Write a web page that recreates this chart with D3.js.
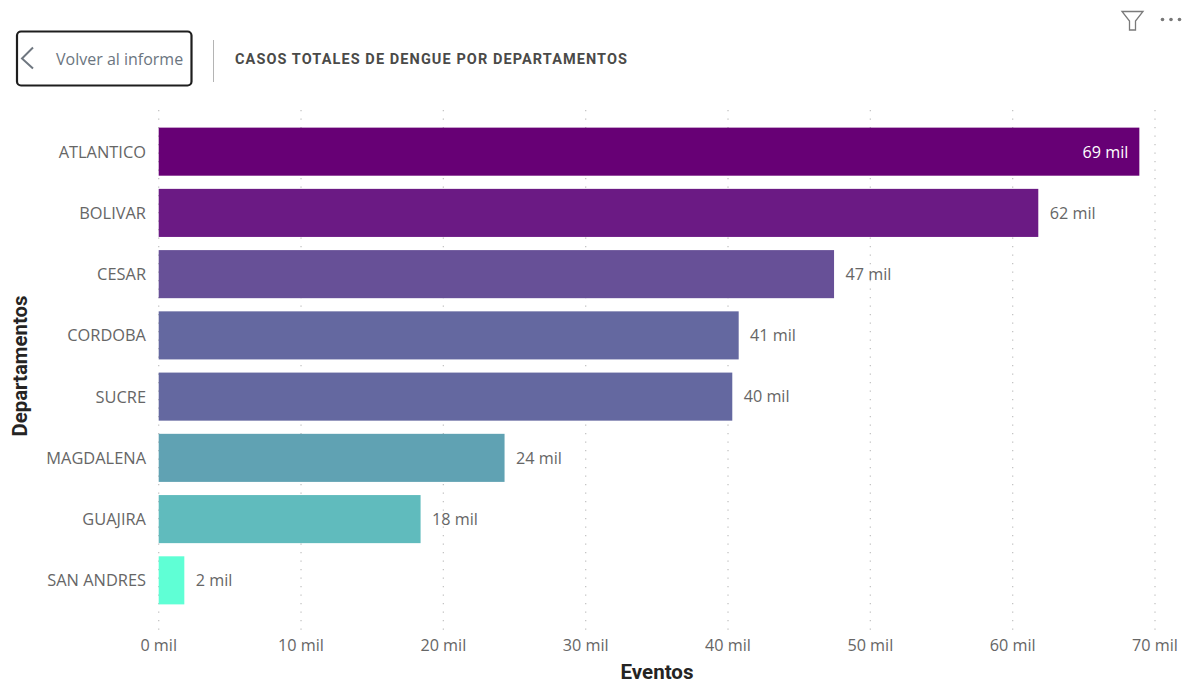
<!DOCTYPE html>
<html>
<head>
<meta charset="utf-8">
<script src="https://cdn.jsdelivr.net/npm/d3@7"></script>
<style>
html,body{margin:0;padding:0;background:#fff;overflow:hidden}
text{font-family:"Open Sans",sans-serif}
</style>
</head>
<body>
<svg id="chart" width="1184" height="683"></svg>
<script>
// Dengue cases by department, in thousands of events
const departamentos = ["ATLANTICO","BOLIVAR","CESAR","CORDOBA","SUCRE","MAGDALENA","GUAJIRA","SAN ANDRES"];
const eventos = [68.9,61.8,47.45,40.75,40.3,24.3,18.4,1.8];
const etiquetas = ["69 mil","62 mil","47 mil","41 mil","40 mil","24 mil","18 mil","2 mil"];
const colores = ["#670075","#6b1a84","#675097","#6468a0","#6468a0","#60a2b3","#60bbbd","#5fffd5"];
const ticks = [0,10,20,30,40,50,60,70];

const svg = d3.select("#chart");
const x = d3.scaleLinear().domain([0,70]).range([158.7,1155]);
const y = d3.scaleBand().domain(departamentos).range([121.5,610.5]).paddingInner(0.215).paddingOuter(0.1);
const gris = "#666666";

// Dotted vertical gridlines
svg.append("g").selectAll("line").data(ticks).join("line")
  .attr("x1",d=>x(d)).attr("x2",d=>x(d)).attr("y1",110).attr("y2",630)
  .attr("stroke","#c4c4c4").attr("stroke-width",1.3).attr("stroke-dasharray","1.3 7.2");

// Bars
svg.append("g").selectAll("rect").data(departamentos).join("rect")
  .attr("x",x(0)).attr("y",d=>y(d)).attr("height",y.bandwidth())
  .attr("width",(d,i)=>x(eventos[i])-x(0)).attr("fill",(d,i)=>colores[i]);

// Value labels: inside the bar when it would not fit past the end
svg.append("g").selectAll("text").data(departamentos).join("text")
  .attr("x",(d,i)=>i===0 ? x(eventos[i])-11 : x(eventos[i])+11.4)
  .attr("y",d=>y(d)+y.bandwidth()/2+0.2).attr("dy","0.35em")
  .attr("text-anchor",(d,i)=>i===0?"end":"start")
  .attr("font-size",16.2).attr("fill",(d,i)=>i===0?"#ffffff":gris)
  .text((d,i)=>etiquetas[i]);

// Category labels
svg.append("g").selectAll("text").data(departamentos).join("text")
  .attr("x",146).attr("y",d=>y(d)+y.bandwidth()/2+0.2).attr("dy","0.35em")
  .attr("text-anchor","end").attr("font-size",16.4).attr("fill",gris).text(d=>d);

// Value axis labels
svg.append("g").selectAll("text").data(ticks).join("text")
  .attr("x",d=>x(d)).attr("y",651).attr("text-anchor","middle")
  .attr("font-size",16.2).attr("fill",gris).text(d=>d+" mil");

// Axis titles
svg.append("text").attr("x",657).attr("y",679).attr("text-anchor","middle")
  .style("font-family","Roboto")
  .attr("font-size",21).attr("font-weight",700).attr("fill","#252423").attr("textLength",73).attr("lengthAdjust","spacingAndGlyphs").text("Eventos");
svg.append("text").attr("transform","translate(27,366) rotate(-90)").attr("text-anchor","middle")
  .style("font-family","Roboto")
  .attr("font-size",21).attr("font-weight",700).attr("fill","#252423").attr("textLength",141).attr("lengthAdjust","spacingAndGlyphs").text("Departamentos");

// Back button
svg.append("rect").attr("x",17).attr("y",31.5).attr("width",174.5).attr("height",54).attr("rx",4)
  .attr("fill","#fff").attr("stroke","#1e1e1e").attr("stroke-width",2.2);
svg.append("path").attr("d","M33,47.5 L22,58.5 L33,68.5").attr("fill","none").attr("stroke","#6f7780").attr("stroke-width",2);
svg.append("text").attr("x",56).attr("y",64.5).attr("font-size",16).attr("fill","#6b7580").text("Volver al informe");
svg.append("line").attr("x1",213.5).attr("x2",213.5).attr("y1",40).attr("y2",82).attr("stroke","#b4b4b4").attr("stroke-width",1);

// Title
svg.append("text").attr("x",235).attr("y",63.5).style("font-family","Roboto")
  .attr("font-size",14.5).attr("font-weight",700).attr("fill","#4a4a48").attr("textLength",392).text("CASOS TOTALES DE DENGUE POR DEPARTAMENTOS");

// Header icons: filter and more options
svg.append("path").attr("d","M1122,11.5 L1143,11.5 L1135.5,21 L1135.5,30 L1129.5,30 L1129.5,21 Z")
  .attr("fill","none").attr("stroke","#7a7a7a").attr("stroke-width",1.3);
svg.append("g").selectAll("circle").data([1162.5,1171,1179.5]).join("circle")
  .attr("cx",d=>d).attr("cy",19.5).attr("r",1.8).attr("fill","#777");
</script>
</body>
</html>
